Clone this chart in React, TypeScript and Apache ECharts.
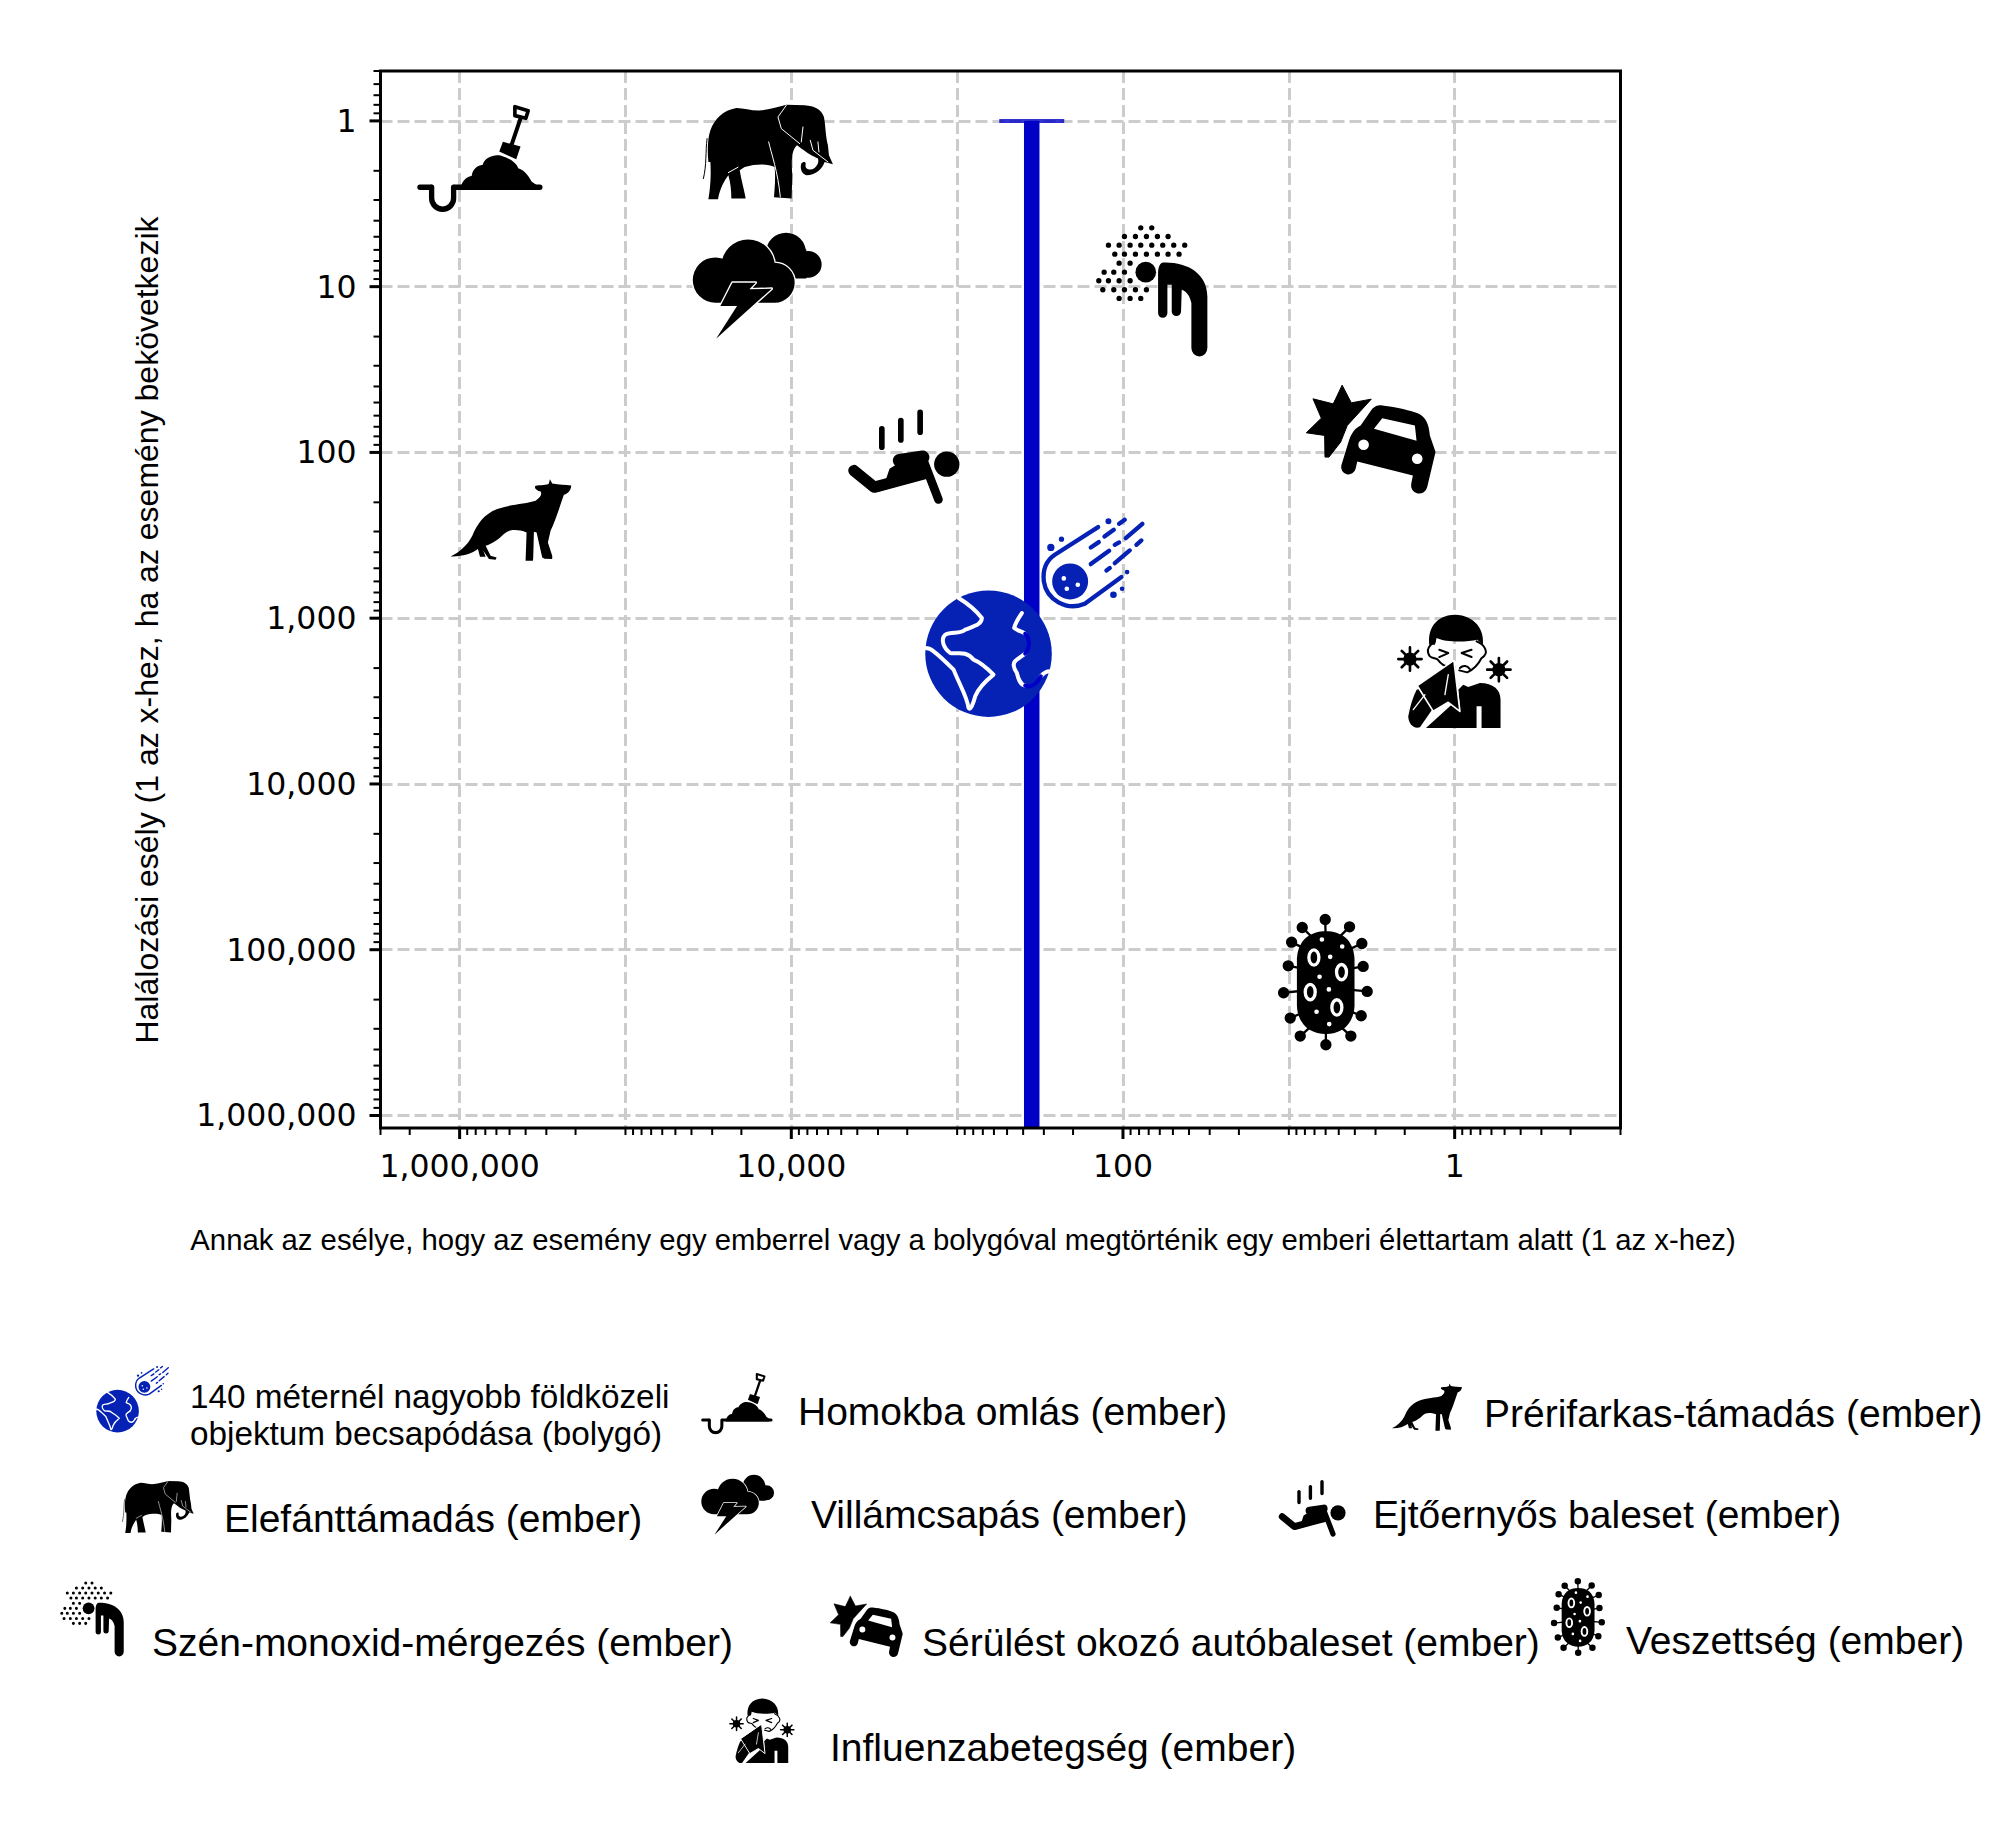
import React, { useEffect, useRef } from "react";
import * as echarts from "echarts";

// ---------- data ----------
const eventKeys = ["shovel", "elephant", "storm", "co", "car", "skydiver", "coyote", "meteor", "earth", "flu", "virus"];
const eventOddsX = [760000, 14000, 16000, 67, 3.2, 2090, 490000, 151, 646, 1.0, 5.97];
const eventDeathY = [1.66, 1.54, 9.9, 10.6, 83, 106, 255, 470, 1640, 2105, 158000];
const asteroidX = [355, 355];
const asteroidY = [1, 1190000];
const capPoint = [355, 1];
const xMin = 0.1, xMax = 3000000, yMin = 0.5, yMax = 1190000;
const xMajorTicks = [1000000, 10000, 100, 1];
const xLabelled = xMajorTicks;
const xDecades = [0.1, 1, 10, 100, 1000, 10000, 100000, 1000000];
const yDecades = [1, 10, 100, 1000, 10000, 100000, 1000000];
const mantissas = [2, 3, 4, 5, 6, 7, 8, 9];
const yTopMinor = [0.5, 0.6, 0.7, 0.8, 0.9];
const xOddPowers = [100000, 1000, 10, 0.1];
const xTitle = "Annak az esélye, hogy az esemény egy emberrel vagy a bolygóval megtörténik egy emberi élettartam alatt (1 az x-hez)";
const yTitle = "Halálozási esély (1 az x-hez, ha az esemény bekövetkezik";
const legendItems = [
  { lines: ["140 méternél nagyobb földközeli", "objektum becsapódása (bolygó)"] },
];
const legendLabels = [
  "Homokba omlás (ember)", "Prérifarkas-támadás (ember)", "Elefánttámadás (ember)", "Villámcsapás (ember)",
  "Ejtőernyős baleset (ember)", "Szén-monoxid-mérgezés (ember)", "Sérülést okozó autóbaleset (ember)",
  "Veszettség (ember)", "Influenzabetegség (ember)",
];
const legendLabelPos = [[798, 1411, 39], [1484, 1413, 39], [224, 1518, 39], [811, 1514, 39], [1373, 1514, 39], [152, 1642, 39], [922, 1642, 39], [1626, 1640, 39], [830, 1747, 39]];
const legendIconKeys = ["earth", "meteor", "shovel", "coyote", "elephant", "storm", "skydiver", "co", "car", "virus", "flu"];
const legendIconPos = [[117.5, 1411, 0.335], [152, 1381, 0.33], [736.5, 1403, 0.57], [1427, 1407, 0.58], [157.5, 1507, 0.55], [738, 1505, 0.565], [1312, 1508, 0.6], [92, 1619, 0.57], [866, 1626, 0.56], [1578, 1617, 0.57], [762, 1731, 0.57]];

// ---------- icon drawings (in 3x pixels, with their own centres) ----------
const BLUE = "#0522B5";
const BAR = "#0000C6";
const circ = (x: number, y: number, r: number) => `M${x - r} ${y}a${r} ${r} 0 1 1 ${2 * r} 0a${r} ${r} 0 1 1 ${-2 * r} 0Z`;
const oval = (x: number, y: number, rx: number, ry: number) => `M${x - rx} ${y}a${rx} ${ry} 0 1 1 ${2 * rx} 0a${rx} ${ry} 0 1 1 ${-2 * rx} 0Z`;
const seg = (a: number[]) => `M${a[0]} ${a[1]}L${a[2]} ${a[3]}`;
const spikes = (x: number, y: number, r: number) => {
  let s = "";
  for (let i = 0; i < 8; i++) {
    const t = (i * Math.PI) / 4;
    s += `M${x} ${y}L${(x + r * Math.cos(t)).toFixed(1)} ${(y + r * Math.sin(t)).toFixed(1)}`;
  }
  return s;
};
const dotRows: [number, number[]][] = [
  [54, [182, 215]], [80, [133, 166, 199, 232, 264]], [106, [85, 117, 150, 182, 215, 248, 281, 314]],
  [133, [104, 133, 166, 199, 232, 264, 297]], [160, [117, 150]], [187, [72, 101, 133]],
  [213, [56, 85, 117, 150]], [240, [68, 101, 133, 166, 199]], [266, [117, 150, 182]],
];
const dots = dotRows.map(([y, xs]) => xs.map((x) => circ(x, y, 8)).join("")).join("");
const balls = [[1277, 1412], [1350, 1434], [1387, 1484], [1391, 1553], [1403, 1628], [1385, 1701], [1354, 1762], [1279, 1788], [1202, 1762], [1172, 1708], [1152, 1632], [1166, 1551], [1176, 1480], [1208, 1436]];
const virusBalls = balls.map(([x, y]) => circ(x, y, 17)).join("");
const virusStems = balls.map(([x, y]) => seg([x, y, 1279 + (x - 1279) * 0.3, 1600 + (y - 1600) * 0.7])).join("");
const virusRings = [[1243, 1526], [1326, 1570], [1232, 1630], [1312, 1676]];
const virusSpots = [[1267, 1472], [1328, 1493], [1292, 1524], [1260, 1584], [1288, 1622], [1251, 1689], [1289, 1726]];
const stormFront = circ(1127, 692, 68) + circ(1225, 650, 80) + circ(1305, 700, 60) + "M1127 660H1305V760H1127Z";
const stormBolt = "M1178 700L1248 700L1229 720L1296 718L1129 868L1192 770L1142 770Z";

type Layer = { d: string; fill?: string; stroke?: string; w?: number; lstroke?: string };
type Icon = { cx: number; cy: number; layers: Layer[] };
const icons: Record<string, Icon> = {
  elephant: {
    cx: 232, cy: 170,
    layers: [
      { d: "M56 200C52 160 55 125 62 105C75 70 100 45 140 38C165 38 190 48 215 45C240 42 262 35 290 28L345 30C375 32 395 42 403 65C408 90 408 125 415 150L418 180L430 207L405 200C398 222 375 240 352 240C338 238 330 222 335 205C340 198 350 198 348 208C345 222 360 228 375 218C385 210 388 200 385 190L365 180C350 172 330 155 322 150C305 165 305 200 308 240L306 310L253 306C255 280 258 250 255 215C235 205 200 205 165 215L150 225C155 255 165 290 168 310L125 310C125 285 122 260 116 240C105 255 90 280 85 312L56 312C60 290 65 250 62 200Z", fill: "#000" },
      { d: "M52 130C47 170 51 210 41 250", stroke: "#000", w: 3 },
      { d: "M290 30L265 65L275 100L330 145M340 95L335 140M237 140C245 175 265 230 272 305M116 232L145 216M362 135L370 165L415 200M385 140L388 170", stroke: "#fff", w: 3 },
    ],
  },
  shovel: {
    cx: 418, cy: 322,
    layers: [
      { d: "M240 412H273M345 412H600", stroke: "#000", w: 16 },
      { d: "M275 412V445A33 33 0 0 0 341 445V412", stroke: "#000", w: 16 },
      { d: "M362 412C370 385 385 380 395 378C400 350 420 345 428 345C435 320 470 310 490 320C510 325 530 340 535 355C555 360 570 385 575 395L590 405L590 420H362Z", fill: "#000" },
      { d: "M489 275L542 290L529 328L478 305Z", fill: "#000" },
      { d: "M542 205L515 285", stroke: "#000", w: 12 },
      { d: "M525 170L565 182L558 205L525 197Z", stroke: "#000", w: 11 },
    ],
  },
  storm: {
    cx: 1252, cy: 709,
    layers: [
      { d: circ(1339, 610, 60) + circ(1406, 645, 40) + "M1290 600H1400V687H1290Z", fill: "#000" },
      { d: stormFront, fill: "#fff", stroke: "#fff", w: 8 },
      { d: stormFront, fill: "#000" },
      { d: stormBolt, fill: "#fff", stroke: "#fff", w: 8 },
      { d: stormBolt, fill: "#000" },
    ],
  },
  skydiver: {
    cx: 1692, cy: 1222,
    layers: [
      { d: oval(1822, 1246, 38, 38), fill: "#000" },
      { d: "M1543 1265L1604 1315L1754 1275", stroke: "#000", w: 34 },
      { d: "M1754 1240L1797 1352", stroke: "#000", w: 26 },
      { d: "M1680 1235L1750 1225", stroke: "#000", w: 40 },
      { d: "M1640 1290L1650 1260L1690 1235L1760 1240L1765 1285L1610 1330Z", fill: "#000" },
      { d: "M1627 1140V1195M1684 1115V1173M1742 1090V1150", stroke: "#000", w: 17 },
    ],
  },
  coyote: {
    cx: 211, cy: 147,
    layers: [
      { d: "M30 257C55 245 80 225 95 195C110 160 130 130 170 115C210 100 255 100 285 90C300 80 305 70 300 62C285 58 280 50 285 45C300 42 320 44 325 38L328 25L335 38C355 42 375 42 392 44C392 55 385 68 370 72C360 100 345 150 330 180L322 215L335 255L335 265L312 264L305 260L288 185L280 183L278 260L277 270L255 270L258 185C230 175 205 175 190 190C175 205 155 220 135 225L150 255L168 260L165 267L145 265L128 240L135 258L118 258L112 235C90 250 65 258 30 257Z", fill: "#000" },
    ],
  },
  co: {
    cx: 215, cy: 243,
    layers: [
      { d: dots, fill: "#000" },
      { d: circ(197, 187, 31), fill: "#000" },
      { d: "M248 158C320 155 382 190 382 260L382 415A24 25 0 0 1 334 415L334 280C330 260 320 245 305 240L303 305A14 14 0 0 1 275 305L275 225L262 225L262 310A14 14 0 0 1 234 310L234 190C234 172 240 160 248 158Z", fill: "#000" },
    ],
  },
  car: {
    cx: 870, cy: 690,
    layers: [
      { d: "M785 530L812 582L872 571L800 650L780 700L745 745L733 745L732 680L677 672L722 628L697 570L757 585Z", fill: "#000", stroke: "#000", w: 3 },
      { d: "M905 590C950 595 990 605 1015 615C1035 625 1045 645 1048 680L1065 730L1040 835A20 20 0 0 1 992 825L997 800L830 758L825 780A22 22 0 0 1 782 770L805 695C815 665 830 655 840 650L875 600C885 590 895 588 905 590Z", fill: "#000" },
      { d: "M905 628L1003 650L1008 696L880 660Z" + circ(849, 708, 16) + circ(1010, 750, 16), fill: "#fff" },
    ],
  },
  meteor: {
    cx: 550, cy: 192,
    layers: [
      { d: circ(481, 245, 54) + circ(596, 64, 9) + circ(423, 143, 11) + circ(455, 118, 8) + circ(652, 217, 7) + circ(637, 267, 7) + circ(611, 285, 10), fill: BLUE },
      { d: circ(462, 236, 7) + circ(504, 255, 7) + circ(471, 267, 7), fill: "#fff" },
      { d: "M565 82L435 165C410 182 398 210 402 245C410 300 470 335 525 312L635 232", stroke: BLUE, w: 13 },
      { d: "M543 143L567 127M584 110L612 90M648 115L698 72M543 193L598 153M615 190L660 152M590 212L600 205M680 135L695 122M628 72L645 60M615 135L628 128", stroke: BLUE, w: 13 },
    ],
  },
  earth: {
    cx: 235, cy: 462,
    layers: [
      { d: circ(235, 462, 190), fill: BLUE },
      { d: "M145 295C170 310 195 330 215 355C215 375 190 380 165 390C150 405 125 395 105 405C90 420 100 445 120 460C140 465 165 450 190 480C215 490 235 510 250 525C225 545 205 565 195 590C190 610 180 635 175 625C170 590 150 560 130 510C110 490 90 470 70 455C60 445 50 445 45 445", stroke: "#fff", w: 12 },
      { d: "M335 340C325 355 315 370 312 385C325 395 335 395 345 402M345 462L320 480C305 490 310 505 320 520C325 540 330 555 345 558M392 530C400 520 410 515 420 515", stroke: "#fff", w: 12 },
      { d: "M345 402C358 415 362 440 345 462M345 558C360 565 380 555 392 530", stroke: BAR, lstroke: "#fff", w: 12 },
    ],
  },
  flu: {
    cx: 224, cy: 216,
    layers: [
      { d: "M148 135C143 90 165 47 225 45C285 47 314 90 309 135L292 120C260 128 195 128 170 115L165 135Z", fill: "#000" },
      { d: "M165 125C150 135 135 150 150 170C155 175 165 175 172 178C185 195 195 200 205 200M290 125C315 135 330 160 305 175C295 195 280 210 262 218L238 212", stroke: "#000", w: 6 },
      { d: "M178 150L205 160L178 172M275 150L245 160L275 172M240 205C250 195 262 198 270 208", stroke: "#000", w: 6 },
      { d: "M250 255L265 262L300 250C340 250 362 270 362 300V385H305V320H290V385H138L215 315L240 325L235 270Z", fill: "#000" },
      { d: "M85 350C90 320 100 290 110 270L128 265L160 325L120 383C100 390 85 370 85 350Z", fill: "#000" },
      { d: "M222 182L240 335L205 308L160 335L112 258Z", fill: "#000", stroke: "#fff", w: 5 },
      { d: "M205 225L195 285M100 330L135 285", stroke: "#fff", w: 4 },
      { d: circ(90, 178, 20) + circ(357, 210, 20), fill: "#000" },
      { d: spikes(90, 178, 35) + spikes(357, 210, 35), stroke: "#000", w: 8 },
    ],
  },
  virus: {
    cx: 1278, cy: 1600,
    layers: [
      { d: virusStems, stroke: "#000", w: 7 },
      { d: virusBalls, fill: "#000" },
      { d: "M1192 1530C1195 1470 1235 1447 1279 1447C1323 1447 1362 1470 1365 1530V1672C1362 1730 1323 1756 1279 1756C1235 1756 1195 1730 1192 1672Z", fill: "#000" },
      { d: virusRings.map(([x, y]) => oval(x, y, 20, 28)).join("") + virusSpots.map(([x, y]) => circ(x, y, 7)).join(""), fill: "#fff" },
      { d: virusRings.map(([x, y]) => oval(x, y, 10, 18)).join(""), fill: "#000" },
    ],
  },
};

Object.keys(icons).forEach((k) => {
  icons[k].layers.forEach((l, i) => {
    echarts.graphic.registerShape(`ic_${k}_${i}`, echarts.graphic.extendPath(l.d as any, {} as any));
  });
});

const layerStyle = (l: Layer, legend: boolean) => ({
  fill: l.fill || "none",
  stroke: legend && l.lstroke ? l.lstroke : l.stroke || "none",
  lineWidth: l.w || 0,
  lineCap: "round",
  lineJoin: "round",
});

const renderIcon = (_p: any, api: any) => {
  const p = api.coord([api.value(0), api.value(1)]);
  const key = eventKeys[api.value(2)];
  const ic = icons[key];
  const s = 1 / 3;
  return {
    type: "group",
    children: ic.layers.map((l, i) => ({
      type: `ic_${key}_${i}`,
      x: p[0] - ic.cx * s,
      y: p[1] - ic.cy * s,
      scaleX: s,
      scaleY: s,
      style: layerStyle(l, false),
    })),
  };
};

const renderFrame = (_p: any, api: any) => {
  const bl = api.coord([xMax, yMax]);
  const tr = api.coord([xMin, yMin]);
  const out: any[] = [];
  const tickX = (v: number, len: number, w: number) => {
    const x = api.coord([v, yMax])[0];
    out.push({ type: "line", shape: { x1: x, y1: bl[1], x2: x, y2: bl[1] + len }, style: { stroke: "#000", lineWidth: w } });
  };
  const tickY = (v: number, len: number, w: number) => {
    const y = api.coord([xMax, v])[1];
    out.push({ type: "line", shape: { x1: bl[0], y1: y, x2: bl[0] - len, y2: y }, style: { stroke: "#000", lineWidth: w } });
  };
  xMajorTicks.forEach((v) => tickX(v, 11, 3));
  xOddPowers.forEach((v) => tickX(v, 7, 2));
  xDecades.forEach((d) => mantissas.forEach((m) => { if (m * d <= xMax) tickX(m * d, 7, 2); }));
  yDecades.forEach((v) => tickY(v, 11, 3));
  yTopMinor.forEach((v) => tickY(v, 7, 2));
  yDecades.slice(0, 6).forEach((d) => mantissas.forEach((m) => tickY(m * d, 7, 2)));
  out.push({ type: "rect", shape: { x: bl[0], y: tr[1], width: tr[0] - bl[0], height: bl[1] - tr[1] }, style: { fill: "none", stroke: "#000", lineWidth: 3 } });
  return { type: "group", children: out };
};

const isPow = (v: number) => Math.abs(Math.log10(v) - Math.round(Math.log10(v))) < 1e-6;
const fmt = (v: number) => Math.round(v).toLocaleString("en-US");

export default function App() {
  const ref = useRef<HTMLDivElement>(null);
  useEffect(() => {
    const chart = echarts.init(ref.current!, null, { renderer: "svg" });
    const graphic: any[] = [];
    graphic.push({ type: "text", x: 963, y: 1239, silent: true, style: { text: xTitle, fontFamily: "Liberation Sans", fontSize: 29.3, fill: "#000", textAlign: "center", textVerticalAlign: "middle" } });
    graphic.push({ type: "text", x: 147, y: 630, rotation: Math.PI / 2, silent: true, style: { text: yTitle, fontFamily: "Liberation Sans", fontSize: 32, fill: "#000", textAlign: "center", textVerticalAlign: "middle" } });
    legendItems[0].lines.forEach((t, i) => {
      graphic.push({ type: "text", x: 190, y: [1396, 1433][i], silent: true, style: { text: t, fontFamily: "Liberation Sans", fontSize: 33.3, fill: "#000", textAlign: "left", textVerticalAlign: "middle" } });
    });
    legendLabels.forEach((t, i) => {
      const [x, y, fs] = legendLabelPos[i];
      graphic.push({ type: "text", x, y, silent: true, style: { text: t, fontFamily: "Liberation Sans", fontSize: fs, fill: "#000", textAlign: "left", textVerticalAlign: "middle" } });
    });
    legendIconKeys.forEach((key, i) => {
      const [px, py, rel] = legendIconPos[i];
      const s = rel / 3;
      const ic = icons[key];
      ic.layers.forEach((l, j) => {
        graphic.push({ type: `ic_${key}_${j}`, x: px - ic.cx * s, y: py - ic.cy * s, scaleX: s, scaleY: s, silent: true, style: layerStyle(l, true) });
      });
    });
    chart.setOption({
      animation: false,
      backgroundColor: "#fff",
      grid: { left: 380.5, top: 71, width: 1240, height: 1057, containLabel: false },
      xAxis: {
        type: "log", inverse: true, min: xMin, max: xMax, logBase: 10,
        axisLine: { show: false }, axisTick: { show: false },
        splitLine: { show: true, showMinLine: false, showMaxLine: false, lineStyle: { color: "#ccc", width: 3, type: [12, 5] } },
        minorTick: { show: false }, minorSplitLine: { show: false },
        axisLabel: {
          margin: 22, fontFamily: "DejaVu Sans", fontSize: 31.5, color: "#000",
          formatter: (v: number) => (isPow(v) && xLabelled.some((m) => Math.abs(m / v - 1) < 1e-6) ? fmt(v) : ""),
        },
      },
      yAxis: {
        type: "log", inverse: true, min: yMin, max: yMax, logBase: 10,
        axisLine: { show: false }, axisTick: { show: false },
        splitLine: { show: true, showMinLine: false, showMaxLine: false, lineStyle: { color: "#ccc", width: 3, type: [12, 5] } },
        minorTick: { show: false }, minorSplitLine: { show: false },
        axisLabel: {
          margin: 24, fontFamily: "DejaVu Sans", fontSize: 31.5, color: "#000", padding: [8, 0, 0, 0],
          formatter: (v: number) => (isPow(v) && v >= 1 ? fmt(v) : ""),
        },
      },
      series: [
        { type: "line", z: 2, silent: true, showSymbol: false, symbol: "none", data: asteroidX.map((x, i) => [x, asteroidY[i]]), lineStyle: { color: BAR, width: 15.5, cap: "butt" } },
        { type: "scatter", z: 2, silent: true, symbol: "rect", symbolSize: [65, 4], data: [capPoint], itemStyle: { color: BAR } },
        { type: "custom", z: 3, silent: true, renderItem: renderIcon, encode: { x: 0, y: 1 }, data: eventKeys.map((_, i) => [eventOddsX[i], eventDeathY[i], i]) },
        { type: "custom", z: 4, silent: true, renderItem: renderFrame, encode: { x: 0, y: 1 }, data: [[1, 1]] },
      ],
      graphic,
    });
    return () => chart.dispose();
  }, []);
  return <div ref={ref} style={{ position: "absolute", left: 0, top: 0, width: 2000, height: 1824 }} />;
}
